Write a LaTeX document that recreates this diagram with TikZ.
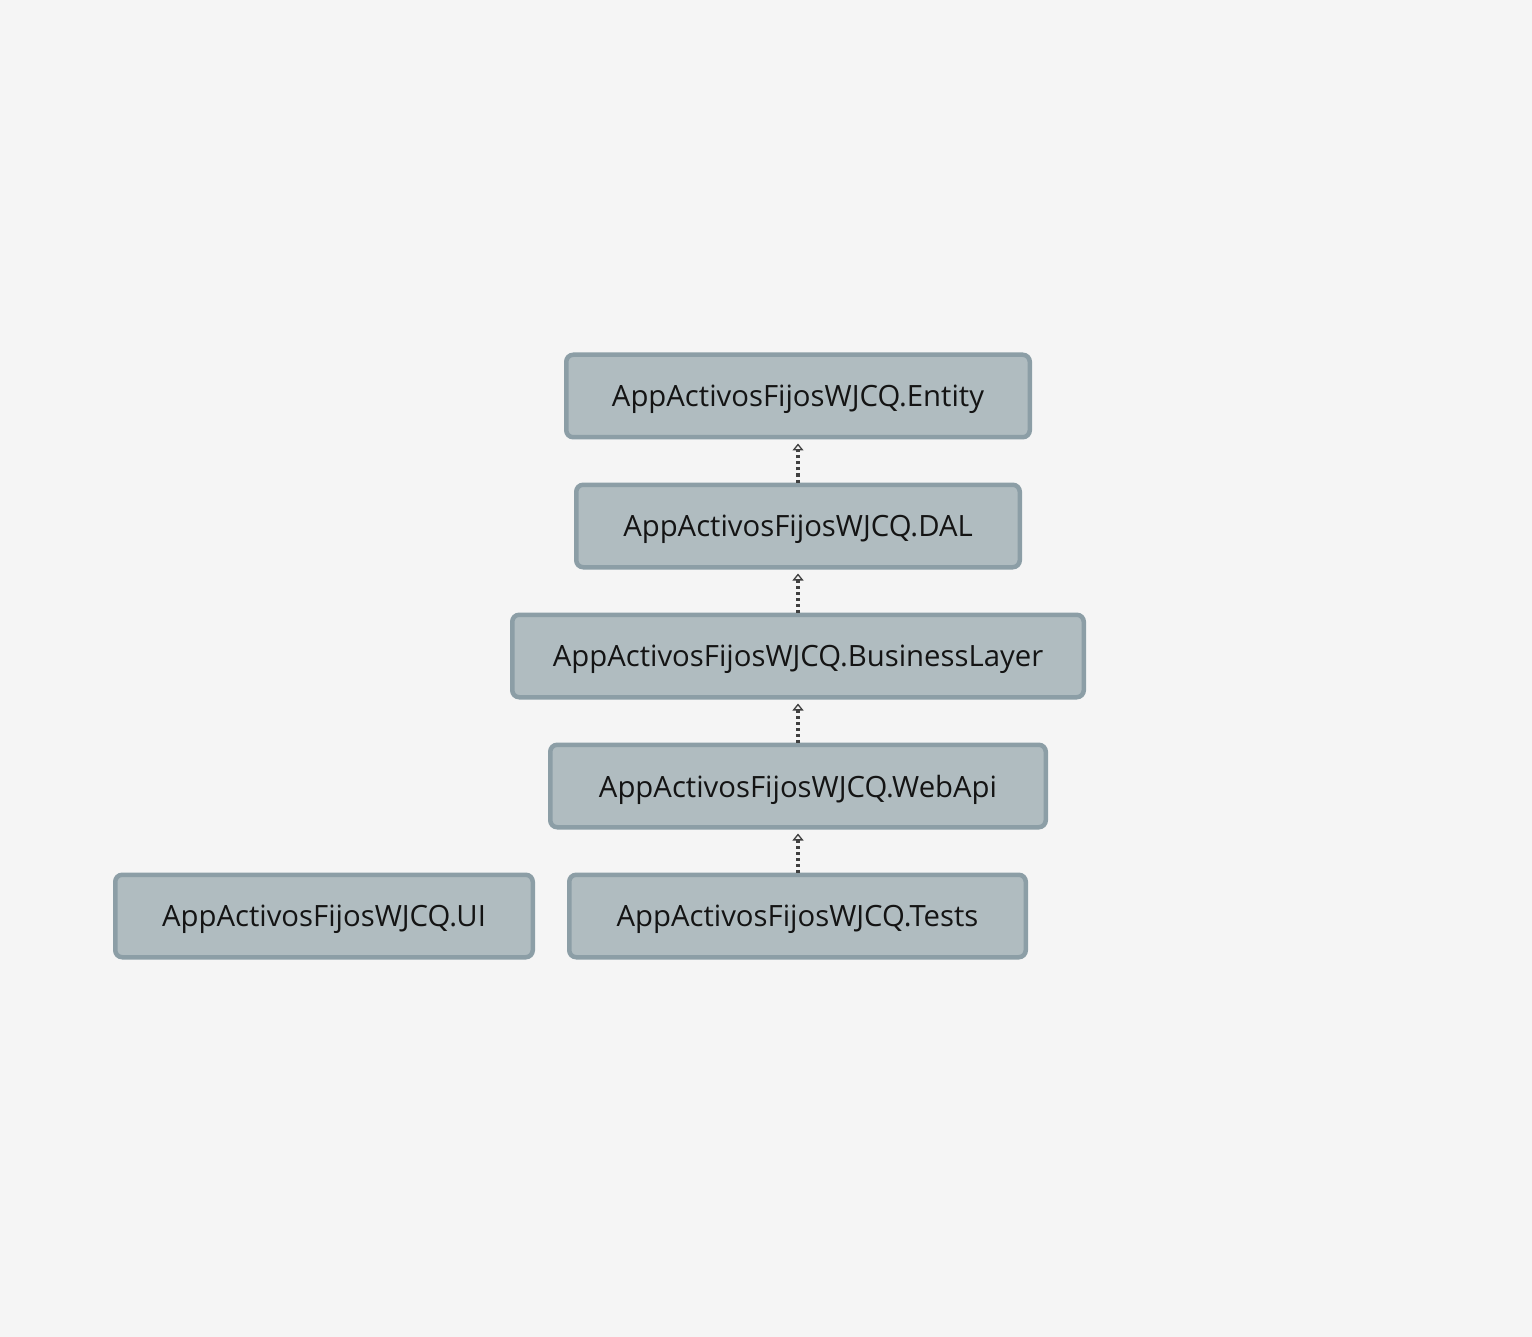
\documentclass[tikz,border=0pt]{standalone}
\usepackage{fontspec}
\setmainfont{Open Sans}
\usetikzlibrary{arrows.meta,positioning}
\definecolor{bgcol}{HTML}{F5F5F5}
\definecolor{boxfill}{HTML}{B0BCC0}
\definecolor{boxline}{HTML}{8C9EA6}
\definecolor{depline}{HTML}{404040}
\begin{document}
\begin{tikzpicture}[x=1pt,y=-1pt,
		project/.style={draw=boxline, fill=boxfill, line width=4.5pt, rounded corners=7pt, minimum height=82.5pt, text depth=0pt, font=\fontsize{29.3}{34}\selectfont, text=black!92},
		dep/.style={depline, line width=3.2pt, dash pattern=on 3pt off 3pt, -{Triangle[open, length=7pt, width=11pt, line width=1.3pt]}, shorten >=4pt}]
			\fill [bgcol] (0,0) rectangle (1532,1337);
			\useasboundingbox (0,0) rectangle (1532,1337);
			\node [project, minimum width=463.5pt] (entity) at (798,396) {AppActivosFijosWJCQ.Entity};
			\node [project, minimum width=443.5pt] (dal) at (798,526) {AppActivosFijosWJCQ.DAL};
			\node [project, minimum width=571.5pt] (bl) at (798,656) {AppActivosFijosWJCQ.BusinessLayer};
			\node [project, minimum width=495.5pt] (webapi) at (798,786) {AppActivosFijosWJCQ.WebApi};
			\node [project, minimum width=417.5pt] (ui) at (324,916) {AppActivosFijosWJCQ.UI};
			\node [project, minimum width=456.5pt] (tests) at (797.5,916) {AppActivosFijosWJCQ.Tests};
			\draw [dep] (dal.north) -- (entity.south);
			\draw [dep] (bl.north) -- (dal.south);
			\draw [dep] (webapi.north) -- (bl.south);
			\draw [dep] (tests.north-|webapi.south) -- (webapi.south);
		\end{tikzpicture}
\end{document}
